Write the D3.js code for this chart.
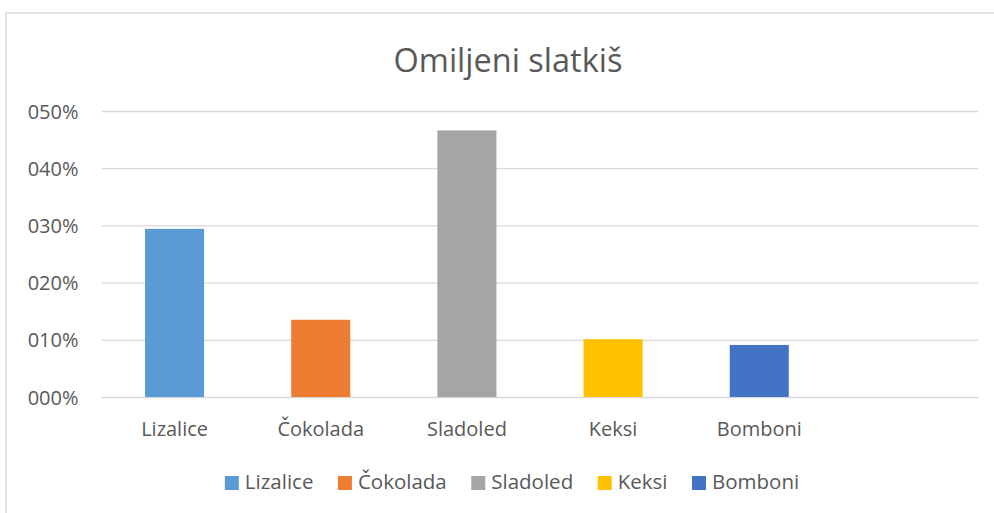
<!DOCTYPE html>
<html>
<head>
<meta charset="utf-8">
<script src="https://cdn.jsdelivr.net/npm/d3@7"></script>
<style>
  body { margin: 0; background: #fff; }
  text { font-family: "Open Sans", sans-serif; fill: #595959; }
</style>
</head>
<body>
<div id="container"></div>
<script>
// chart data
let categories = ["Lizalice", "Čokolada", "Sladoled", "Keksi", "Bomboni", ""];
let values = [0.294, 0.135, 0.466, 0.101, 0.091, null];
let colors = ["#5B9BD5", "#ED7D31", "#A5A5A5", "#FFC000", "#4472C4"];
let yTicks = [0, 0.1, 0.2, 0.3, 0.4, 0.5];
let yTickLabels = ["000%", "010%", "020%", "030%", "040%", "050%"];
let title = "Omiljeni slatkiš";

let chart_width = 994;
let chart_height = 513;
let plot_left = 101.5, plot_right = 978.5;
let plot_top = 111, plot_bottom = 397;

let svg = d3.select("#container")
  .append("svg")
  .attr("width", chart_width)
  .attr("height", chart_height);

// chart frame
svg.append("rect")
  .attr("x", 6)
  .attr("y", 13)
  .attr("width", 1100)
  .attr("height", 600)
  .attr("fill", "none")
  .attr("stroke", "#d9d9d9")
  .attr("stroke-width", 1.5);

let xScale = d3.scaleBand()
  .domain(categories)
  .range([plot_left, plot_right])
  .paddingInner(0.596)
  .paddingOuter(0.298);

let yScale = d3.scaleLinear()
  .domain([0, 0.5])
  .range([plot_bottom, plot_top]);

// gridlines + y labels
let yAxis = d3.axisLeft(yScale)
  .tickValues(yTicks)
  .tickSize(-(plot_right - plot_left))
  .tickPadding(23)
  .tickFormat((d, i) => yTickLabels[i]);

let gy = svg.append("g")
  .attr("transform", "translate(" + plot_left + ",0)")
  .call(yAxis);
gy.select(".domain").remove();
gy.selectAll("line").attr("stroke", "#d9d9d9").attr("stroke-width", 1.3);
gy.selectAll("text")
  .style("font-size", "20px")
  .attr("fill", "#595959")
  .attr("dy", "0.35em");

// bars
svg.append("g")
  .selectAll("rect")
  .data(categories.filter((c, i) => values[i] != null))
  .enter()
  .append("rect")
  .attr("x", (d) => xScale(d))
  .attr("width", xScale.bandwidth())
  .attr("y", (d, i) => yScale(values[i]))
  .attr("height", (d, i) => yScale(0) - yScale(values[i]))
  .attr("fill", (d, i) => colors[i]);

// x labels
let xAxis = d3.axisBottom(xScale).tickSize(0).tickPadding(0);
let gx = svg.append("g")
  .attr("transform", "translate(0," + plot_bottom + ")")
  .call(xAxis);
gx.select(".domain").remove();
gx.selectAll("text")
  .style("font-size", "20px")
  .attr("fill", "#595959")
  .attr("dy", "0")
  .attr("y", 39);

// title
svg.append("text")
  .attr("x", 508)
  .attr("y", 72)
  .attr("text-anchor", "middle")
  .style("font-size", "32.5px")
  .text(title);

// legend
let legend = svg.append("g").attr("id", "legend");
let items = categories.filter((c, i) => values[i] != null);
let gap = 24.5;
let lx = 0;
items.forEach(function(c, i) {
  let g = legend.append("g").attr("transform", "translate(" + lx + ",0)");
  g.append("rect")
    .attr("x", 0)
    .attr("y", -13)
    .attr("width", 14)
    .attr("height", 14)
    .attr("fill", colors[i]);
  let t = g.append("text")
    .attr("x", 20)
    .attr("y", 0)
    .style("font-size", "20.5px")
    .text(c);
  lx += 20 + t.node().getComputedTextLength() + gap;
});
let legend_width = lx - gap;
legend.attr("transform", "translate(" + (512 - legend_width / 2) + ",489)");
</script>
</body>
</html>
